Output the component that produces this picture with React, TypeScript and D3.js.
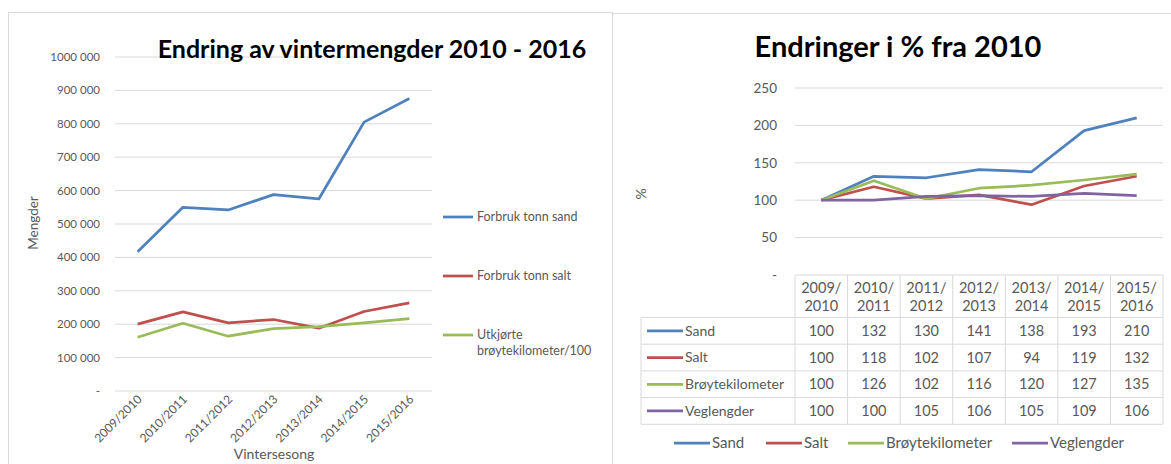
import React from "react";
import * as d3 from "d3";

// seasons shared by both charts
const seasons = ["2009/2010", "2010/2011", "2011/2012", "2012/2013", "2013/2014", "2014/2015", "2015/2016"];

// left chart: absolute amounts
const sandTons = [417000, 550000, 542000, 588000, 575000, 805000, 876000];
const saltTons = [200000, 237000, 204000, 214000, 188000, 238000, 264000];
const plowKm100 = [161000, 203000, 164000, 187000, 193000, 204000, 217000];
const leftTicks = [0, 100000, 200000, 300000, 400000, 500000, 600000, 700000, 800000, 900000, 1000000];
const leftTickLabels = ["-", "100 000", "200 000", "300 000", "400 000", "500 000", "600 000", "700 000", "800 000", "900 000", "1000 000"];
const leftLegend = ["Forbruk tonn sand", "Forbruk tonn salt", "Utkjørte\nbrøytekilometer/100"];

// right chart: index, 2010 = 100
const pctNames = ["Sand", "Salt", "Brøytekilometer", "Veglengder"];
const pctSand = [100, 132, 130, 141, 138, 193, 210];
const pctSalt = [100, 118, 102, 107, 94, 119, 132];
const pctPlow = [100, 126, 102, 116, 120, 127, 135];
const pctRoad = [100, 100, 105, 106, 105, 109, 106];
const rightTicks = [0, 50, 100, 150, 200, 250];
const rightTickLabels = ["-", "50", "100", "150", "200", "250"];

const colors = ["#4F81BD", "#C0504D", "#9BBB59", "#8064A2"];
const grey = "#595959";
const gridCol = "#D9D9D9";
const font = "Lato, 'Open Sans', sans-serif";

const LeftChart = () => {
  const x = d3.scaleBand().domain(seasons).range([115, 432]);
  const y = d3.scaleLinear().domain([0, 1000000]).range([391, 57]);
  const line = d3.line<number>()
    .x((d, i) => (x(seasons[i]) as number) + x.bandwidth() / 2)
    .y((d) => y(d));
  const series = [sandTons, saltTons, plowKm100];
  const legendY = [217, 276, 335];

  return (
    <g fontFamily={font}>
      <rect x={8.5} y={12.5} width={604} height={460} fill="white" stroke={gridCol} />
      {leftTicks.map((t, i) => (
        <g key={t}>
          <line x1={115} x2={432} y1={y(t)} y2={y(t)} stroke={gridCol} />
          <text x={100} y={y(t)} dy="0.35em" textAnchor="end" fontSize={11.5} fill={grey}>
            {leftTickLabels[i]}
          </text>
        </g>
      ))}
      <text x={372} y={58} textAnchor="middle" fontSize={25} fontWeight="bold" fill="#000">
        Endring av vintermengder 2010 - 2016
      </text>
      {series.map((s, k) => (
        <path key={k} d={line(s) || ""} fill="none" stroke={colors[k]} strokeWidth={2.75} strokeLinejoin="round" />
      ))}
      {seasons.map((s) => {
        const cx = (x(s) as number) + x.bandwidth() / 2 + 5;
        return (
          <text key={s} transform={`translate(${cx},${400}) rotate(-45)`} textAnchor="end" fontSize={12} fill={grey}>
            {s}
          </text>
        );
      })}
      <text x={274} y={459} textAnchor="middle" fontSize={14} fill={grey}>Vintersesong</text>
      <text transform="translate(38,223) rotate(-90)" textAnchor="middle" fontSize={13.5} fill={grey}>Mengder</text>
      {leftLegend.map((lab, k) => (
        <g key={lab}>
          <line x1={443} x2={473} y1={legendY[k]} y2={legendY[k]} stroke={colors[k]} strokeWidth={2.75} />
          {lab.split("\n").map((part, j) => (
            <text key={j} x={477} y={legendY[k] + j * 16} dy="0.35em" fontSize={12.5} fill={grey}>{part}</text>
          ))}
        </g>
      ))}
    </g>
  );
};

const RightChart = () => {
  const x = d3.scaleBand().domain(seasons).range([795, 1163]);
  const y = d3.scaleLinear().domain([0, 250]).range([275, 88]);
  const line = d3.line<number>()
    .x((d, i) => (x(seasons[i]) as number) + x.bandwidth() / 2)
    .y((d) => y(d));
  const series = [pctSand, pctSalt, pctPlow, pctRoad];
  const headTop = 275;
  const headBot = 317.5;
  const rowH = 26.7;
  const tableLeft = 641;
  const legendX = [674, 766, 848, 1012];

  return (
    <g fontFamily={font}>
      <rect x={612.5} y={13.5} width={570} height={460} fill="white" stroke={gridCol} />
      {rightTicks.map((t, i) => (
        <g key={t}>
          {t > 0 && <line x1={795} x2={1163} y1={y(t)} y2={y(t)} stroke={gridCol} />}
          <text x={777} y={y(t)} dy="0.35em" textAnchor="end" fontSize={13.5} fill={grey}>
            {rightTickLabels[i]}
          </text>
        </g>
      ))}
      <text x={898} y={57} textAnchor="middle" fontSize={29} fontWeight="bold" fill="#000">
        Endringer i % fra 2010
      </text>
      <text transform="translate(646,194) rotate(-90)" textAnchor="middle" fontSize={14} fill={grey}>%</text>
      {series.map((s, k) => (
        <path key={k} d={line(s) || ""} fill="none" stroke={colors[k]} strokeWidth={2.75} strokeLinejoin="round" />
      ))}
      {/* data table */}
      <g stroke={gridCol} fill="none">
        <line x1={795} x2={1163} y1={headTop} y2={headTop} />
        {[0, 1, 2, 3, 4].map((r) => (
          <line key={r} x1={tableLeft} x2={1163} y1={headBot + r * rowH} y2={headBot + r * rowH} />
        ))}
        <line x1={tableLeft} x2={tableLeft} y1={headBot} y2={headBot + 4 * rowH} />
        {seasons.map((s) => (
          <line key={s} x1={x(s) as number} x2={x(s) as number} y1={headTop} y2={headBot + 4 * rowH} />
        ))}
        <line x1={1163} x2={1163} y1={headTop} y2={headBot + 4 * rowH} />
      </g>
      {seasons.map((s) => {
        const cx = (x(s) as number) + x.bandwidth() / 2;
        const [a, b] = s.split("/");
        return (
          <g key={s} fontSize={14.5} fill={grey} textAnchor="middle">
            <text x={cx} y={288} dy="0.35em">{a + "/"}</text>
            <text x={cx} y={306} dy="0.35em">{b}</text>
          </g>
        );
      })}
      {series.map((s, k) => {
        const cy = headBot + k * rowH + rowH / 2;
        return (
          <g key={k}>
            <line x1={647} x2={683} y1={cy} y2={cy} stroke={colors[k]} strokeWidth={2.75} />
            <text x={685} y={cy} dy="0.35em" fontSize={14} fill={grey}>{pctNames[k]}</text>
            {s.map((v, i) => (
              <text key={i} x={(x(seasons[i]) as number) + x.bandwidth() / 2} y={cy} dy="0.35em"
                textAnchor="middle" fontSize={14.5} fill={grey}>{v}</text>
            ))}
          </g>
        );
      })}
      {pctNames.map((n, k) => (
        <g key={n}>
          <line x1={legendX[k]} x2={legendX[k] + 36} y1={443} y2={443} stroke={colors[k]} strokeWidth={2.75} />
          <text x={legendX[k] + 38} y={443} dy="0.35em" fontSize={15} fill={grey}>{n}</text>
        </g>
      ))}
    </g>
  );
};

export default function App() {
  return (
    <svg width={1171} height={464} style={{ position: "absolute", left: 0, top: 0, background: "white" }}>
      <rect width={1171} height={464} fill="white" />
      <LeftChart />
      <RightChart />
    </svg>
  );
}
